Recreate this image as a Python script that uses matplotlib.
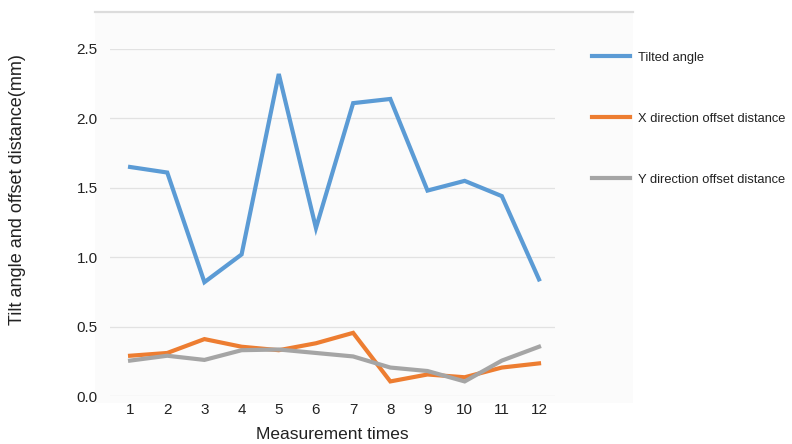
"""Tilt angle and X/Y offset distance over twelve measurements."""

import matplotlib.pyplot as plt
from matplotlib.lines import Line2D
from matplotlib.patches import Rectangle

plt.rcParams["font.family"] = ["Liberation Sans", "DejaVu Sans"]

measurements = list(range(1, 13))
tilted_angle = [1.65, 1.61, 0.82, 1.02, 2.32, 1.21, 2.11, 2.14, 1.48, 1.55, 1.44, 0.84]
x_offset = [0.29, 0.31, 0.41, 0.355, 0.33, 0.38, 0.455, 0.105, 0.155, 0.135, 0.205, 0.235]
y_offset = [0.255, 0.29, 0.26, 0.33, 0.335, 0.31, 0.285, 0.205, 0.18, 0.105, 0.255, 0.355]
series_labels = ["Tilted angle", "X direction offset distance", "Y direction offset distance"]
y_ticks = [0.0, 0.5, 1.0, 1.5, 2.0, 2.5]

colors = ["#5b9bd5", "#ed7d31", "#a5a5a5"]

fig = plt.figure(figsize=(7.92, 4.44), dpi=100)

# faint panel behind the plot plus the grey rule along its top
fig.add_artist(Rectangle((95 / 792, 1 - 403 / 444), 538 / 792, 391 / 444,
                         transform=fig.transFigure, facecolor="#fbfbfb",
                         edgecolor="none", zorder=0))
fig.add_artist(Line2D([95 / 792, 633 / 792], [1 - 12 / 444, 1 - 12 / 444],
                      transform=fig.transFigure, color="#dcdcdc", linewidth=1.6))

ax = fig.add_axes([110 / 792, 1 - 396 / 444, 445 / 792, 347 / 444])
ax.set_facecolor("none")

for values, color, label in zip([tilted_angle, x_offset, y_offset], colors, series_labels):
	ax.plot(measurements, values, color=color, linewidth=3, label=label,
	        solid_joinstyle="miter", clip_on=False)

ax.set_xlim(0.46, 12.43)
ax.set_ylim(0, 2.5)
ax.set_xticks(measurements)
ax.set_yticks(y_ticks)
ax.set_yticklabels([f"{v:.1f}" for v in y_ticks])
ax.tick_params(length=0, labelsize=11, colors="#222222")
ax.tick_params(axis="x", pad=5)
ax.tick_params(axis="y", pad=9)
ax.grid(axis="y", color="#e2e2e2", linewidth=0.9)
ax.set_axisbelow(True)
for spine in ax.spines.values():
	spine.set_visible(False)

ax.set_xlabel("Measurement times", fontsize=12.5, color="#222222", labelpad=7)
fig.text(18 / 792, 1 - 190 / 444, "Tilt angle and offset distance(mm)", rotation=90,
         ha="center", va="center", fontsize=13, color="#222222")

handles = [Line2D([], [], color=c, linewidth=3) for c in colors]
fig.legend(handles, series_labels, loc="upper left",
           bbox_to_anchor=(580 / 792, 1 - 40 / 444), frameon=False,
           fontsize=9.3, handlelength=3.0, handletextpad=0.6,
           labelspacing=3.8, labelcolor="#222222")

fig.savefig("out.png", dpi=100)
